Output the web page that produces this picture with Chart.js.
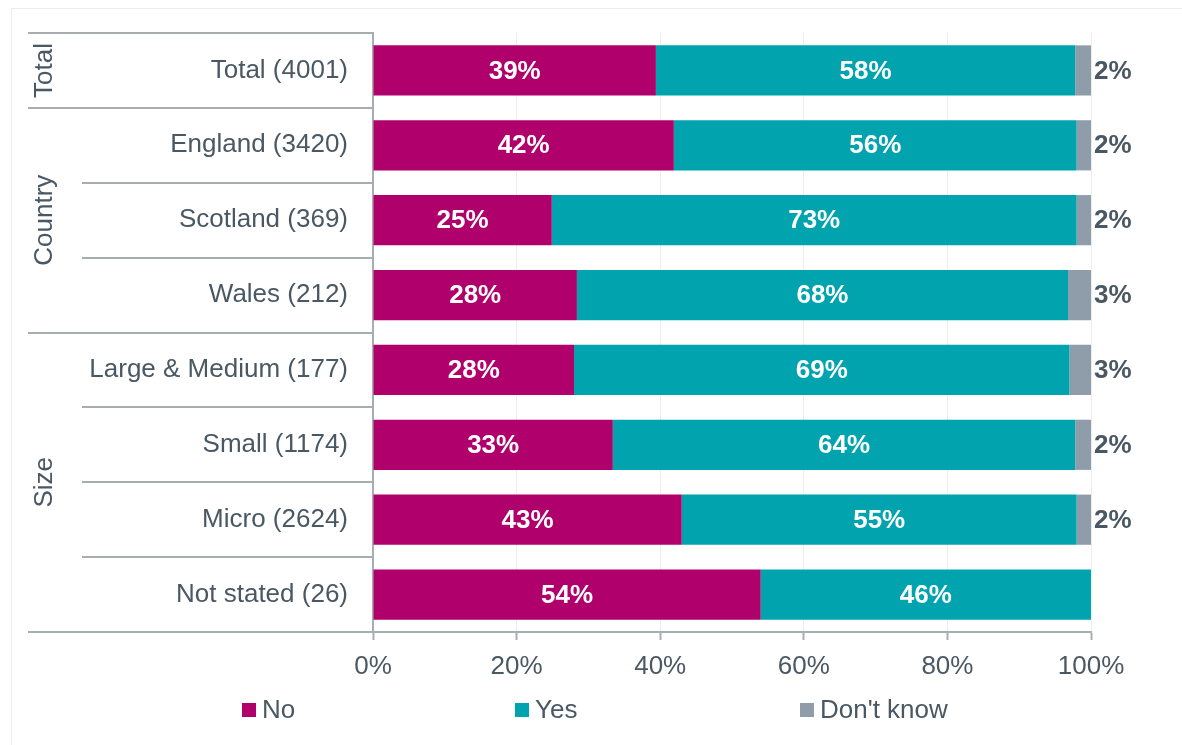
<!DOCTYPE html>
<html>
<head>
<meta charset="utf-8">
<script src="https://cdn.jsdelivr.net/npm/chart.js@4"></script>
<style>
  html, body { margin: 0; padding: 0; background: #fff; }
  #wrap { position: relative; width: 1182px; height: 745px; }
  #frame { position: absolute; left: 11px; top: 8px; right: -2px; bottom: -2px;
           border: 1px solid #ececec; pointer-events: none; }
</style>
</head>
<body>
<div id="wrap">
  <canvas id="surveyChart" width="1182" height="745"></canvas>
  <div id="frame"></div>
</div>
<script>
// --- data ---
const categories = ['Total (4001)', 'England (3420)', 'Scotland (369)', 'Wales (212)',
                    'Large & Medium (177)', 'Small (1174)', 'Micro (2624)', 'Not stated (26)'];
const noValues      = [39.4, 41.9, 24.9, 28.4, 28.0, 33.4, 43.0, 54.0];
const yesValues     = [58.4, 56.1, 73.1, 68.4, 69.0, 64.4, 55.0, 46.0];
const dontKnowValues = [2.2, 2.0, 2.0, 3.2, 3.0, 2.2, 2.0, 0];
const groupNames = ['Total', 'Country', 'Size'];
const groupSizes = [1, 3, 4];
const xTicks = [0, 20, 40, 60, 80, 100];

const TEXT = '#4a5864';
const LINE = '#a8adb2';
const FONT = '"Liberation Sans", Arial, sans-serif';

// --- labels inside / beside the bars ---
const barLabels = {
    id: 'barLabels',
    afterDatasetsDraw(chart) {
        const ctx = chart.ctx;
        ctx.save();
        ctx.font = 'bold 26px ' + FONT;
        ctx.textBaseline = 'middle';
        chart.data.datasets.forEach((ds, di) => {
            const meta = chart.getDatasetMeta(di);
            meta.data.forEach((bar, i) => {
                const v = ds.data[i];
                if (!v) return;
                const txt = Math.round(v) + '%';
                if (di < 2) {
                    ctx.fillStyle = '#ffffff';
                    ctx.textAlign = 'center';
                    ctx.fillText(txt, (bar.x + bar.base) / 2, bar.y + 1);
                } else {
                    ctx.fillStyle = TEXT;
                    ctx.textAlign = 'left';
                    ctx.fillText(txt, bar.x + 3, bar.y + 1);
                }
            });
        });
        ctx.restore();
    }
};

// --- row separators and rotated group names on the left ---
const groupAxis = {
    id: 'groupAxis',
    afterDraw(chart) {
        const ctx = chart.ctx;
        const y = chart.scales.y;
        const left = chart.chartArea.left;
        const band = y.getPixelForValue(1) - y.getPixelForValue(0);
        const edge = i => y.getPixelForValue(0) - band / 2 + i * band;

        // which boundaries are group boundaries
        const groupEdges = [0];
        groupSizes.forEach(n => groupEdges.push(groupEdges[groupEdges.length - 1] + n));

        ctx.save();
        ctx.strokeStyle = LINE;
        ctx.lineWidth = 2;
        for (let i = 0; i <= categories.length; i++) {
            const startX = groupEdges.includes(i) ? 28 : 82;
            const yy = Math.round(edge(i));
            ctx.beginPath();
            ctx.moveTo(startX, yy);
            ctx.lineTo(left, yy);
            ctx.stroke();
        }

        ctx.fillStyle = TEXT;
        ctx.font = '26px ' + FONT;
        ctx.textAlign = 'center';
        ctx.textBaseline = 'middle';
        groupNames.forEach((name, g) => {
            const mid = (edge(groupEdges[g]) + edge(groupEdges[g + 1])) / 2;
            ctx.save();
            ctx.translate(45, mid);
            ctx.rotate(-Math.PI / 2);
            ctx.fillText(name, 0, 0);
            ctx.restore();
        });
        ctx.restore();
    }
};

// --- legend spread across the bottom ---
const legendX = [242, 515, 800];
const bottomLegend = {
    id: 'bottomLegend',
    afterDraw(chart) {
        const ctx = chart.ctx;
        ctx.save();
        ctx.font = '26px ' + FONT;
        ctx.textBaseline = 'middle';
        ctx.textAlign = 'left';
        chart.data.datasets.forEach((ds, i) => {
            ctx.fillStyle = ds.backgroundColor;
            ctx.fillRect(legendX[i], 703, 14, 14);
            ctx.fillStyle = TEXT;
            ctx.fillText(ds.label, legendX[i] + 20, 711);
        });
        ctx.restore();
    }
};

new Chart(document.getElementById('surveyChart'), {
    type: 'bar',
    data: {
        labels: categories,
        datasets: [
            { label: 'No', data: noValues, backgroundColor: '#b0006b' },
            { label: 'Yes', data: yesValues, backgroundColor: '#00a3ae' },
            { label: "Don't know", data: dontKnowValues, backgroundColor: '#8f9daa' }
        ]
    },
    options: {
        indexAxis: 'y',
        responsive: false,
        animation: false,
        layout: { padding: { top: 33, right: 91, left: 0, bottom: 0 } },
        datasets: { bar: { categoryPercentage: 1, barPercentage: 0.67 } },
        scales: {
            x: {
                stacked: true,
                min: 0,
                max: 100,
                afterBuildTicks: scale => { scale.ticks = xTicks.map(v => ({ value: v })); },
                afterFit: scale => { scale.height = 113; },
                grid: { color: '#ececec', lineWidth: 1, tickLength: 8, tickColor: LINE, tickWidth: 2 },
                border: { display: true, color: LINE, width: 2 },
                ticks: {
                    padding: 11,
                    color: TEXT,
                    font: { family: FONT, size: 26 },
                    callback: v => v + '%'
                }
            },
            y: {
                stacked: true,
                afterFit: scale => { scale.width = 373; },
                grid: { display: false },
                border: { display: true, color: LINE, width: 2 },
                ticks: {
                    padding: 17,
                    color: TEXT,
                    font: { family: FONT, size: 26 }
                }
            }
        },
        plugins: {
            legend: { display: false },
            tooltip: { enabled: false }
        }
    },
    plugins: [barLabels, groupAxis, bottomLegend]
});
</script>
</body>
</html>
